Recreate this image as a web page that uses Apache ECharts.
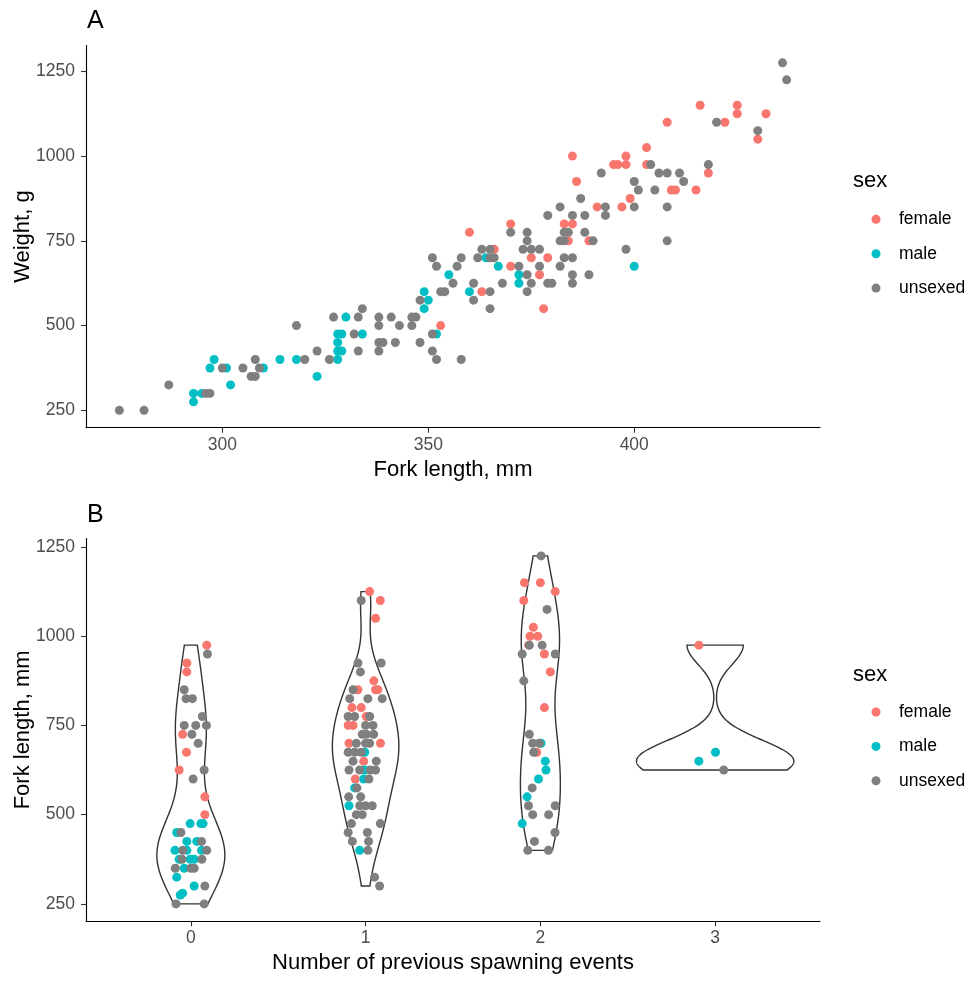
<!DOCTYPE html>
<html>
<head>
<meta charset="utf-8">
<script src="https://cdn.jsdelivr.net/npm/echarts@6/dist/echarts.min.js"></script>
<style>
  html, body { margin: 0; padding: 0; background: #ffffff; }
  #chart { width: 968px; height: 981px; }
</style>
</head>
<body>
<div id="chart"></div>
<script>
// ---- Panel A: fork length (mm) against weight (g), by sex ----
const femaleA = [
  [353,500],[363,600],[360,775],[366,725],[370,675],[370,800],[375,700],[377,650],
  [379,700],[378,550],[383,800],[385,800],[384,750],[389,750],[391,850],[385,1000],
  [403,1025],[398,1000],[395,975],[396,975],[398,975],[403,975],[386,925],[399,875],
  [409,900],[410,900],[397,850],[408,1100],[416,1150],[425,1150],[425,1125],[432,1125],
  [422,1100],[430,1050],[418,950],[415,900]
];
const maleA = [
  [293,300],[293,275],[295,300],[298,400],[297,375],[301,375],[302,325],[310,375],
  [314,400],[318,400],[323,350],[328,400],[328,425],[329,425],[328,450],[328,475],
  [329,475],[330,525],[334,475],[349,600],[350,575],[349,550],[352,475],[360,600],
  [355,650],[364,700],[367,675],[372,650],[372,625],[400,675]
];
const unsexedA = [
  [275,250],[281,250],[287,325],[296,300],[297,300],[300,375],[305,375],[308,400],
  [307,350],[308,350],[309,375],[320,400],[318,500],[323,425],[326,400],[327,525],
  [334,550],[333,525],[332,475],[333,425],[338,450],[339,450],[338,425],[338,525],
  [338,500],[341,525],[342,450],[343,500],[346,525],[347,525],[346,500],[348,450],
  [348,575],[351,425],[352,400],[351,475],[353,600],[354,600],[356,625],[358,400],
  [361,625],[361,575],[351,700],[352,675],[357,675],[358,700],[365,600],[365,550],
  [362,700],[363,725],[365,725],[365,700],[366,700],[368,625],[372,675],[374,650],
  [375,625],[374,600],[370,775],[374,775],[374,750],[373,725],[375,725],[377,725],
  [377,675],[379,625],[380,625],[379,825],[382,850],[382,675],[383,700],[385,700],
  [385,650],[385,625],[382,750],[383,750],[383,775],[384,775],[385,825],[388,825],
  [388,775],[390,750],[389,650],[393,850],[393,825],[392,950],[406,950],[408,950],
  [411,950],[400,925],[401,900],[405,900],[387,875],[400,850],[408,850],[398,725],
  [404,975],[408,750],[436,1275],[437,1225],[420,1100],[430,1075],[412,925],[418,975]
];

// ---- Panel B: weight by number of previous spawning events ----
// each point: [x position on the category axis (category + jitter), weight, sex code]
const spawn0 = [
  [0.091,975,'F'],[0.095,950,'U'],[-0.023,925,'F'],[-0.023,900,'F'],[-0.038,850,'U'],
  [-0.028,825,'U'],[0.009,825,'U'],[0.066,775,'U'],[-0.038,750,'U'],[0.028,750,'U'],
  [0.089,750,'U'],[-0.047,725,'F'],[0.006,725,'U'],[0.042,700,'U'],[-0.025,675,'F'],
  [-0.067,625,'F'],[0.076,625,'U'],[0.013,600,'U'],[0.080,550,'F'],[0.080,500,'F'],
  [-0.004,475,'M'],[0.057,475,'M'],[0.070,475,'M'],[-0.081,450,'M'],[-0.057,450,'U'],
  [-0.023,425,'M'],[0.034,425,'M'],[0.061,425,'U'],[-0.091,400,'M'],[-0.047,400,'U'],
  [-0.023,400,'M'],[0.061,400,'M'],[0.091,400,'U'],[-0.067,375,'M'],[-0.051,375,'U'],
  [-0.004,375,'M'],[0.019,375,'M'],[0.063,375,'U'],[-0.089,350,'U'],[-0.038,350,'M'],
  [0.000,350,'U'],[0.019,350,'U'],[-0.081,325,'M'],[0.019,300,'M'],[0.080,300,'U'],
  [-0.061,275,'M'],[-0.047,280,'M'],[-0.085,250,'U'],[0.076,250,'U']
];
const spawn1 = [
  [1.023,1125,'F'],[1.084,1100,'F'],[0.975,1100,'U'],[1.057,1050,'F'],[0.956,925,'U'],
  [1.089,925,'U'],[0.970,900,'U'],[1.047,875,'F'],[0.928,850,'U'],[0.956,850,'F'],
  [1.057,850,'F'],[1.070,850,'F'],[0.909,825,'U'],[1.013,825,'U'],[1.095,825,'U'],
  [0.922,800,'F'],[0.975,800,'F'],[0.900,775,'U'],[0.937,775,'U'],[1.004,775,'F'],
  [1.023,775,'U'],[0.900,750,'F'],[0.928,750,'F'],[1.000,750,'U'],[1.042,750,'U'],
  [0.981,725,'U'],[1.004,725,'U'],[1.046,725,'U'],[0.905,700,'F'],[0.947,700,'U'],
  [1.000,700,'U'],[1.023,700,'U'],[1.085,700,'F'],[0.900,675,'U'],[0.937,675,'U'],
  [0.975,675,'U'],[0.995,675,'M'],[0.928,650,'U'],[0.989,650,'F'],[1.061,650,'U'],
  [0.905,625,'U'],[0.966,625,'U'],[0.994,625,'M'],[1.027,625,'U'],[1.057,625,'U'],
  [0.941,600,'F'],[0.989,600,'M'],[1.019,600,'U'],[0.937,575,'M'],[0.950,575,'U'],
  [0.903,550,'U'],[0.972,550,'U'],[0.905,525,'M'],[0.966,525,'U'],[1.000,525,'U'],
  [1.038,525,'U'],[0.947,500,'U'],[0.981,500,'U'],[0.919,475,'U'],[1.084,475,'U'],
  [0.900,450,'U'],[1.010,450,'U'],[0.924,425,'U'],[1.017,425,'U'],[0.966,400,'M'],
  [1.013,400,'U'],[1.051,325,'U'],[1.080,300,'U']
];
const spawn2 = [
  [2.004,1225,'U'],[1.909,1150,'F'],[2.000,1150,'F'],[2.085,1125,'F'],[1.905,1100,'F'],
  [2.038,1075,'U'],[1.960,1025,'F'],[1.941,1000,'F'],[1.985,1000,'F'],[1.933,975,'F'],
  [1.937,975,'U'],[2.010,975,'U'],[1.896,950,'U'],[2.023,950,'F'],[2.085,950,'U'],
  [2.057,900,'F'],[1.905,875,'U'],[2.023,800,'F'],[1.937,725,'U'],[1.956,700,'U'],
  [1.994,700,'U'],[2.004,700,'M'],[1.962,675,'U'],[1.979,675,'F'],[2.028,650,'M'],
  [2.032,625,'M'],[1.989,600,'M'],[1.953,575,'U'],[1.924,550,'M'],[1.932,525,'U'],
  [2.085,525,'U'],[1.956,500,'U'],[2.047,500,'U'],[1.896,475,'M'],[2.084,450,'U'],
  [1.966,425,'U'],[1.928,400,'U'],[2.046,400,'U']
];
const spawn3 = [
  [2.907,975,'F'],[3.002,675,'M'],[2.907,650,'M'],[3.049,625,'U']
];

const spawnCategories = [0, 1, 2, 3];
const lengthTicks = [300, 350, 400];
const weightTicks = [250, 500, 750, 1000, 1250];
const sexLevels = ['female', 'male', 'unsexed'];
const sexCodes = { female: 'F', male: 'M', unsexed: 'U' };
const sexColors = { female: '#F8766D', male: '#00BFC4', unsexed: '#7F7F7F' };

const FONT = "'Liberation Sans', Arial, Helvetica, sans-serif";

// ---- violin outlines: Gaussian kernel density, nrd0 bandwidth, trimmed to data range ----
function quantile7(sorted, p) {
  const h = (sorted.length - 1) * p;
  const lo = Math.floor(h), hi = Math.ceil(h);
  return sorted[lo] + (h - lo) * (sorted[hi] - sorted[lo]);
}
function bwNrd0(v) {
  const n = v.length;
  const mean = v.reduce((a, b) => a + b, 0) / n;
  const sd = Math.sqrt(v.reduce((a, b) => a + (b - mean) * (b - mean), 0) / (n - 1));
  const s = v.slice().sort((a, b) => a - b);
  const iqr = quantile7(s, 0.75) - quantile7(s, 0.25);
  let lo = Math.min(sd, iqr / 1.34);
  if (!(lo > 0)) lo = sd || 1;
  return 0.9 * lo * Math.pow(n, -0.2);
}
function kde(v, steps) {
  const bw = bwNrd0(v);
  const min = Math.min(...v), max = Math.max(...v);
  const norm = 1 / (v.length * bw * Math.sqrt(2 * Math.PI));
  const out = [];
  for (let i = 0; i < steps; i++) {
    const y = min + (max - min) * i / (steps - 1);
    let s = 0;
    for (const xi of v) { const z = (y - xi) / bw; s += Math.exp(-0.5 * z * z); }
    out.push([y, s * norm]);
  }
  return out;
}
const spawnGroups = [spawn0, spawn1, spawn2, spawn3];
const densities = spawnGroups.map(g => kde(g.map(p => p[1]), 512));
const maxDensity = Math.max(...densities.map(d => Math.max(...d.map(p => p[1]))));
const VIOLIN_HALF = 0.45;

// ---- shared axis styling ----
function axisBase(extra) {
  return Object.assign({
    type: 'value',
    axisLine: { show: true, onZero: false, lineStyle: { color: '#000000', width: 1.1 } },
    axisTick: { show: true, length: 5, lineStyle: { color: '#333333', width: 1.1 } },
    axisLabel: { color: '#4D4D4D', fontSize: 17.5, fontFamily: FONT, formatter: v => String(v) },
    splitLine: { show: false },
    nameLocation: 'middle',
    nameMoveOverlap: false,
    nameTextStyle: { color: '#000000', fontSize: 22, fontFamily: FONT }
  }, extra);
}
function withTicks(axis, ticks, margin) {
  axis.axisTick = Object.assign({}, axis.axisTick, { customValues: ticks });
  axis.axisLabel = Object.assign({}, axis.axisLabel, { customValues: ticks, margin: margin });
  return axis;
}

const xAxes = [
  withTicks(axisBase({ gridIndex: 0, min: 266.9, max: 445.1, name: 'Fork length, mm', nameGap: 31 }), lengthTicks, 8),
  withTicks(axisBase({ gridIndex: 1, min: -0.6, max: 3.6, name: 'Number of previous spawning events', nameGap: 31 }), spawnCategories, 8)
];
const yAxes = [
  withTicks(axisBase({ gridIndex: 0, min: 198.75, max: 1326.25, name: 'Weight, g', nameGap: 52 }), weightTicks, 11),
  withTicks(axisBase({ gridIndex: 1, min: 201.25, max: 1273.75, name: 'Fork length, mm', nameGap: 52 }), weightTicks, 11)
];

const series = [];

// panel A scatter
const panelA = { female: femaleA, male: maleA, unsexed: unsexedA };
sexLevels.forEach(sex => {
  series.push({
    name: sex, type: 'scatter', xAxisIndex: 0, yAxisIndex: 0,
    symbol: 'circle', symbolSize: 9,
    itemStyle: { color: sexColors[sex], opacity: 1 },
    data: panelA[sex], z: 3
  });
});

// panel B violins
series.push({
  type: 'custom', xAxisIndex: 1, yAxisIndex: 1, silent: true, z: 1,
  data: spawnCategories.map((c, i) => [c, i]),
  renderItem: function (params, api) {
    const c = api.value(0);
    const d = densities[api.value(1)];
    const right = d.map(p => api.coord([c + VIOLIN_HALF * p[1] / maxDensity, p[0]]));
    const left = d.slice().reverse().map(p => api.coord([c - VIOLIN_HALF * p[1] / maxDensity, p[0]]));
    return {
      type: 'polygon',
      shape: { points: right.concat(left) },
      style: { fill: '#ffffff', stroke: '#333333', lineWidth: 1.4 }
    };
  }
});

// panel B jittered points
sexLevels.forEach(sex => {
  const pts = [];
  spawnGroups.forEach(g => g.forEach(p => { if (p[2] === sexCodes[sex]) pts.push([p[0], p[1]]); }));
  series.push({
    name: sex, type: 'scatter', xAxisIndex: 1, yAxisIndex: 1,
    symbol: 'circle', symbolSize: 9,
    itemStyle: { color: sexColors[sex], opacity: 1 },
    data: pts, z: 3
  });
});

function legendAt(top) {
  return {
    data: sexLevels, orient: 'vertical', left: 866.5, top: top,
    icon: 'circle', itemWidth: 9, itemHeight: 9, itemGap: 14.4,
    selectedMode: false,
    textStyle: { color: '#000000', fontSize: 17.5, fontFamily: FONT, lineHeight: 20, padding: [0, 0, 0, 13.5] }
  };
}

function label(text, x, y, size) {
  return {
    type: 'text', left: x, top: y - size * 0.6,
    style: { text: text, fill: '#000000', font: size + 'px ' + FONT }
  };
}

const option = {
  animation: false,
  backgroundColor: '#ffffff',
  grid: [
    { left: 86, top: 45.5, width: 734, height: 382.2, outerBoundsMode: 'none', containLabel: false },
    { left: 86, top: 538.5, width: 734, height: 382.8, outerBoundsMode: 'none', containLabel: false }
  ],
  xAxis: xAxes,
  yAxis: yAxes,
  legend: [legendAt(204.3), legendAt(697)],
  graphic: [
    label('A', 87, 24, 25),
    label('B', 87, 518, 25),
    label('sex', 853, 183.5, 22),
    label('sex', 853, 677, 22)
  ],
  series: series
};

const chart = echarts.init(document.getElementById('chart'), null, { renderer: 'canvas' });
chart.setOption(option);
</script>
</body>
</html>
